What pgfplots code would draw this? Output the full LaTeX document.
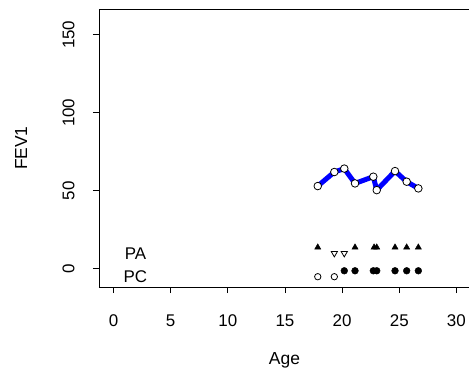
\documentclass[border=0pt]{standalone}
\usepackage{pgfplots}
\pgfplotsset{compat=1.18}
\usepackage{fontspec}
\setmainfont{Liberation Sans}
\begin{document}
\begin{tikzpicture}
\begin{axis}[
  name=ax,
  scale only axis,
  width=371bp, height=277.7bp,
  xmin=-1.27, xmax=31.19,
  ymin=-11.7, ymax=166.3,
  axis x line*=box, axis y line*=left,
  axis line style={-, line width=0.8bp, black},
  xtick={0,5,10,15,20,25,30},
  ytick={0,50,100,150},
  xtick pos=bottom, ytick pos=left,
  tick align=outside,
  major tick length=6bp,
  tick style={line width=0.8bp, black},
  /pgf/number format/assume math mode=true,
  ticklabel style={font=\fontsize{17}{19}\selectfont},
  xticklabel style={yshift=-18bp},
  yticklabel style={rotate=90, anchor=south},
  yticklabel shift=15bp,
  xlabel={Age}, ylabel={FEV1},
  label style={font=\fontsize{17.5}{19}\selectfont},
  xlabel style={at={(axis description cs:0.5,-0.2629)}, anchor=center},
  ylabel style={at={(axis description cs:-0.2102,0.5)}, anchor=center, rotate=0},
  clip=false,
]
% circles under the line
\addplot[only marks, mark=*, mark size=3.8bp, mark options={draw=black, fill=white, line width=0.8bp}]
  coordinates {(17.87,53.0) (19.32,62.0) (20.19,64.2) (21.13,54.7) (22.73,59.0) (23.03,50.4) (24.63,62.6) (25.65,55.8) (26.67,51.5)};
\addplot[color={rgb,255:red,0;green,0;blue,255}, line width=5bp, line join=round, line cap=round, no markers]
  coordinates {(17.87,53.0) (19.32,62.0) (20.19,64.2) (21.13,54.7) (22.73,59.0) (23.03,50.4) (24.63,62.6) (25.65,55.8) (26.67,51.5)};
% PA filled triangles
\addplot[only marks, mark=triangle*, mark size=3.6bp, black]
  coordinates {(17.87,13.7) (21.13,13.7) (22.80,13.7) (23.03,13.7) (24.63,13.7) (25.65,13.7) (26.67,13.7)};
% PA open down triangles
\addplot[only marks, mark=triangle, mark size=3.6bp, black, mark options={rotate=180, line width=0.8bp}]
  coordinates {(19.32,9.9) (20.19,9.9)};
% PC open circles
\addplot[only marks, mark=o, mark size=3.2bp, black, mark options={line width=0.8bp}]
  coordinates {(17.87,-5.1) (19.32,-5.1)};
% PC filled circles
\addplot[only marks, mark=*, mark size=3.4bp, black]
  coordinates {(20.19,-1.3) (21.13,-1.3) (22.73,-1.3) (23.03,-1.3) (24.63,-1.3) (25.65,-1.3) (26.67,-1.3)};
\node[font=\fontsize{17}{19}\selectfont] at (axis cs:1.92,9.4) {PA};
\node[font=\fontsize{17}{19}\selectfont] at (axis cs:1.92,-5.3) {PC};
\end{axis}
\pgfresetboundingbox
\path[use as bounding box] ([xshift=-99bp,yshift=-83bp]ax.south west) rectangle ++(469bp,370bp);
\end{tikzpicture}
\end{document}
